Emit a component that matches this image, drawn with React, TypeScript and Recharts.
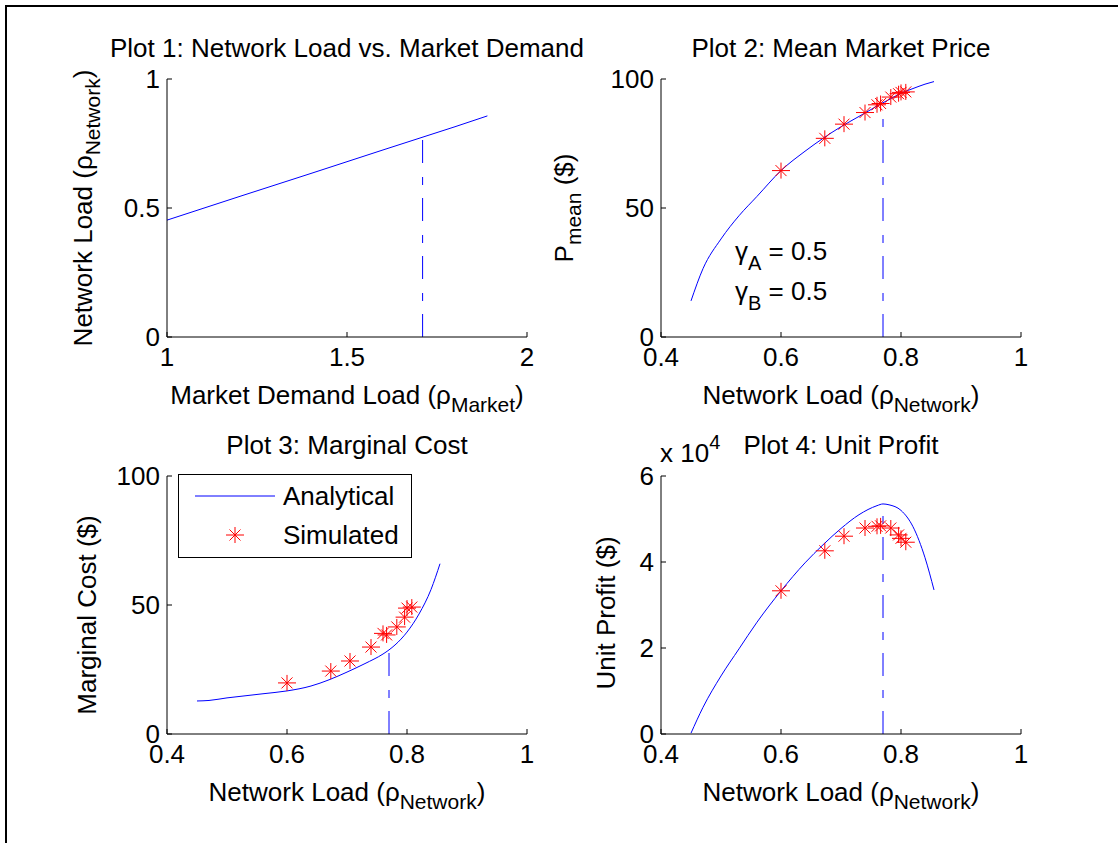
import React from "react";
import { ComposedChart, Line, Scatter, XAxis, YAxis, ReferenceLine, Legend } from "recharts";

const FONT = "'Liberation Sans', Arial, Helvetica, sans-serif";
const BLUE = "#0000FF";
const RED = "#FF0000";

// plot 1: network load vs market demand
const demandLoad = [1.0, 1.2, 1.4, 1.6, 1.8, 1.89];
const networkFromDemand = [0.453, 0.544, 0.634, 0.725, 0.815, 0.857];
const optimalDemand = 1.71;
const optimalNetwork = 0.775;

// plots 2-4: analytical curves over network load
const loadGrid = [0.45, 0.47, 0.5, 0.53, 0.56, 0.6, 0.64, 0.67, 0.7, 0.73, 0.76, 0.77, 0.78, 0.8, 0.82, 0.84, 0.855];
const meanPrice = [14, 26.5, 38, 47, 54.5, 64.5, 72, 77, 81.5, 85.5, 89.5, 90.8, 92, 94.5, 96.3, 98, 99];
const marginalCost = [12.8, 13.0, 14.0, 14.8, 15.6, 16.7, 18.6, 21, 24, 27.3, 31, 32.6, 34.5, 39.5, 46.5, 56, 66];
const unitProfit = [200, 6200, 13500, 19800, 26000, 33300, 39800, 44000, 47800, 51000, 53100, 53500, 53300, 52000, 48200, 41000, 33500];

// simulated points
const simLoad = [0.6, 0.673, 0.705, 0.74, 0.76, 0.766, 0.783, 0.796, 0.8, 0.808];
const simPrice = [64.5, 77, 82.5, 87, 90, 90.5, 93, 94.3, 94.8, 95];
const simCost = [19.8, 24.4, 28.3, 33.7, 39, 38.4, 41.5, 45.3, 48.8, 49.2];
const simProfit = [33300, 42600, 46000, 47900, 48300, 48400, 47900, 46300, 45500, 44600];

const optimalLoad = 0.77;
const optimalPrice = 89.3;
const optimalCost = 32.2;
const optimalProfit = 53300;

const zip = (xs: number[], ys: number[]) => xs.map((x, i) => ({ x, y: ys[i] }));

const Star = (props: any) => {
  const { cx, cy } = props;
  if (cx == null || cy == null) return null;
  return (
    <g stroke={RED} strokeWidth={1}>
      <line x1={cx - 9} y1={cy} x2={cx + 9} y2={cy} />
      <line x1={cx} y1={cy - 8} x2={cx} y2={cy + 8} />
      <line x1={cx - 5.5} y1={cy - 5.5} x2={cx + 5.5} y2={cy + 5.5} />
      <line x1={cx - 5.5} y1={cy + 5.5} x2={cx + 5.5} y2={cy - 5.5} />
    </g>
  );
};

const LegendBox = (props: any) => {
  const items = props.payload ?? [];
  return (
    <svg width={234} height={84} style={{ display: "block" }}>
      <rect x={0.5} y={0.5} width={233} height={83} fill="#fff" stroke="#000" />
      {items.map((it: any, i: number) => {
        const cy = 22 + i * 39;
        return (
          <g key={i}>
            {it.type === "line" ? (
              <line x1={17} x2={97} y1={cy} y2={cy} stroke={BLUE} />
            ) : (
              <Star cx={57} cy={cy} />
            )}
            <text x={105} y={cy + 9} fontSize={26} fontFamily={FONT} fill="#000">
              {it.value}
            </text>
          </g>
        );
      })}
    </svg>
  );
};

const tickStyle = { fill: "#000", fontSize: 26, fontFamily: FONT };

type PanelProps = {
  left: number;
  top: number;
  title: string;
  xLabel: React.ReactNode;
  yLabel: React.ReactNode;
  yLabelX: number;
  yLabelY?: number;
  xDomain: [number, number];
  xTicks: number[];
  yDomain: [number, number];
  yTicks: number[];
  yFormat?: (v: number) => string;
  extra?: React.ReactNode;
  children: React.ReactNode;
};

function Panel(p: PanelProps) {
  const ly = p.yLabelY ?? 208;
  return (
    <div style={{ position: "absolute", left: p.left, top: p.top, width: 560, height: 420 }}>
      <ComposedChart width={560} height={420} margin={{ top: 79, right: 33, bottom: 0, left: 0 }}>
        <XAxis
          type="number"
          dataKey="x"
          domain={p.xDomain}
          ticks={p.xTicks}
          interval={0}
          height={83}
          stroke="#000"
          tickSize={-5}
          tickMargin={16}
          tick={tickStyle}
        />
        <YAxis
          type="number"
          dataKey="y"
          domain={p.yDomain}
          ticks={p.yTicks}
          interval={0}
          width={167}
          stroke="#000"
          tickSize={-5}
          tickMargin={12}
          tick={tickStyle}
          tickFormatter={p.yFormat}
        />
        {p.children}
      </ComposedChart>
      <svg
        width={560}
        height={420}
        style={{ position: "absolute", left: 0, top: 0, pointerEvents: "none", overflow: "visible" }}
        fontFamily={FONT}
        fill="#000"
      >
        <text x={347} y={57} fontSize={26} textAnchor="middle">
          {p.title}
        </text>
        <text x={347} y={404} fontSize={26} textAnchor="middle">
          {p.xLabel}
        </text>
        <text x={p.yLabelX} y={ly} fontSize={26} textAnchor="middle" transform={`rotate(-90 ${p.yLabelX} ${ly})`}>
          {p.yLabel}
        </text>
        {p.extra}
      </svg>
    </div>
  );
}

const netLabel = (
  <>
    Network Load (ρ
    <tspan fontSize={21} dy={8}>
      Network
    </tspan>
    <tspan dy={-8}>)</tspan>
  </>
);

export default function App() {
  return (
    <div style={{ position: "absolute", left: 0, top: 0, width: 1118, height: 843, background: "#fff", overflow: "hidden" }}>
      <div
        style={{
          position: "absolute",
          left: 5,
          top: 5,
          width: 1120,
          height: 850,
          borderLeft: "2px solid #000",
          borderTop: "2px solid #000",
        }}
      />
      <Panel
        left={0}
        top={0}
        title="Plot 1: Network Load vs. Market Demand"
        xLabel={
          <>
            Market Demand Load (ρ
            <tspan fontSize={21} dy={8}>
              Market
            </tspan>
            <tspan dy={-8}>)</tspan>
          </>
        }
        yLabel={netLabel}
        yLabelX={92}
        xDomain={[1, 2]}
        xTicks={[1, 1.5, 2]}
        yDomain={[0, 1]}
        yTicks={[0, 0.5, 1]}
      >
        <Line data={zip(demandLoad, networkFromDemand)} dataKey="y" stroke={BLUE} strokeWidth={1} dot={false} type="linear" isAnimationActive={false} />
        <ReferenceLine
          segment={[
            { x: optimalDemand, y: 0 },
            { x: optimalDemand, y: optimalNetwork },
          ]}
          stroke={BLUE}
          strokeDasharray="23 13 8 14"
        />
      </Panel>

      <Panel
        left={494}
        top={0}
        title="Plot 2: Mean Market Price"
        xLabel={netLabel}
        yLabel={
          <>
            P
            <tspan fontSize={21} dy={8}>
              mean
            </tspan>
            <tspan dy={-8}> ($)</tspan>
          </>
        }
        yLabelX={79}
        xDomain={[0.4, 1]}
        xTicks={[0.4, 0.6, 0.8, 1]}
        yDomain={[0, 100]}
        yTicks={[0, 50, 100]}
        extra={
          <g fontSize={26}>
            <text x={241} y={260}>
              γ<tspan fontSize={20} dy={10}>A</tspan>
              <tspan dy={-10}> = 0.5</tspan>
            </text>
            <text x={241} y={300}>
              γ<tspan fontSize={20} dy={10}>B</tspan>
              <tspan dy={-10}> = 0.5</tspan>
            </text>
          </g>
        }
      >
        <Line data={zip(loadGrid, meanPrice)} dataKey="y" stroke={BLUE} strokeWidth={1} dot={false} type="monotone" isAnimationActive={false} />
        <ReferenceLine
          segment={[
            { x: optimalLoad, y: 0 },
            { x: optimalLoad, y: optimalPrice },
          ]}
          stroke={BLUE}
          strokeDasharray="23 13 8 14"
        />
        <Scatter data={zip(simLoad, simPrice)} dataKey="y" shape={Star} isAnimationActive={false} />
      </Panel>

      <Panel
        left={0}
        top={397}
        title="Plot 3: Marginal Cost"
        xLabel={netLabel}
        yLabel="Marginal Cost ($)"
        yLabelX={96}
        yLabelY={218}
        xDomain={[0.4, 1]}
        xTicks={[0.4, 0.6, 0.8, 1]}
        yDomain={[0, 100]}
        yTicks={[0, 50, 100]}
      >
        <Line data={zip(loadGrid, marginalCost)} dataKey="y" name="Analytical" legendType="line" stroke={BLUE} strokeWidth={1} dot={false} type="monotone" isAnimationActive={false} />
        <ReferenceLine
          segment={[
            { x: optimalLoad, y: 0 },
            { x: optimalLoad, y: optimalCost },
          ]}
          stroke={BLUE}
          strokeDasharray="23 13 8 14"
        />
        <Scatter data={zip(simLoad, simCost)} dataKey="y" name="Simulated" legendType="star" shape={Star} isAnimationActive={false} />
        <Legend
          layout="horizontal"
          verticalAlign="middle"
          align="center"
          wrapperStyle={{ left: 178, top: 77, width: 234, height: 84 }}
          content={LegendBox}
        />
      </Panel>

      <Panel
        left={494}
        top={397}
        title="Plot 4: Unit Profit"
        xLabel={netLabel}
        yLabel="Unit Profit ($)"
        yLabelX={121}
        yLabelY={216}
        xDomain={[0.4, 1]}
        xTicks={[0.4, 0.6, 0.8, 1]}
        yDomain={[0, 60000]}
        yTicks={[0, 20000, 40000, 60000]}
        yFormat={(v: number) => String(v / 10000)}
        extra={
          <text x={166} y={65} fontSize={26}>
            x 10<tspan fontSize={20} dy={-13}>4</tspan>
          </text>
        }
      >
        <Line data={zip(loadGrid, unitProfit)} dataKey="y" stroke={BLUE} strokeWidth={1} dot={false} type="monotone" isAnimationActive={false} />
        <ReferenceLine
          segment={[
            { x: optimalLoad, y: 0 },
            { x: optimalLoad, y: optimalProfit },
          ]}
          stroke={BLUE}
          strokeDasharray="23 13 8 14"
        />
        <Scatter data={zip(simLoad, simProfit)} dataKey="y" shape={Star} isAnimationActive={false} />
      </Panel>
    </div>
  );
}
